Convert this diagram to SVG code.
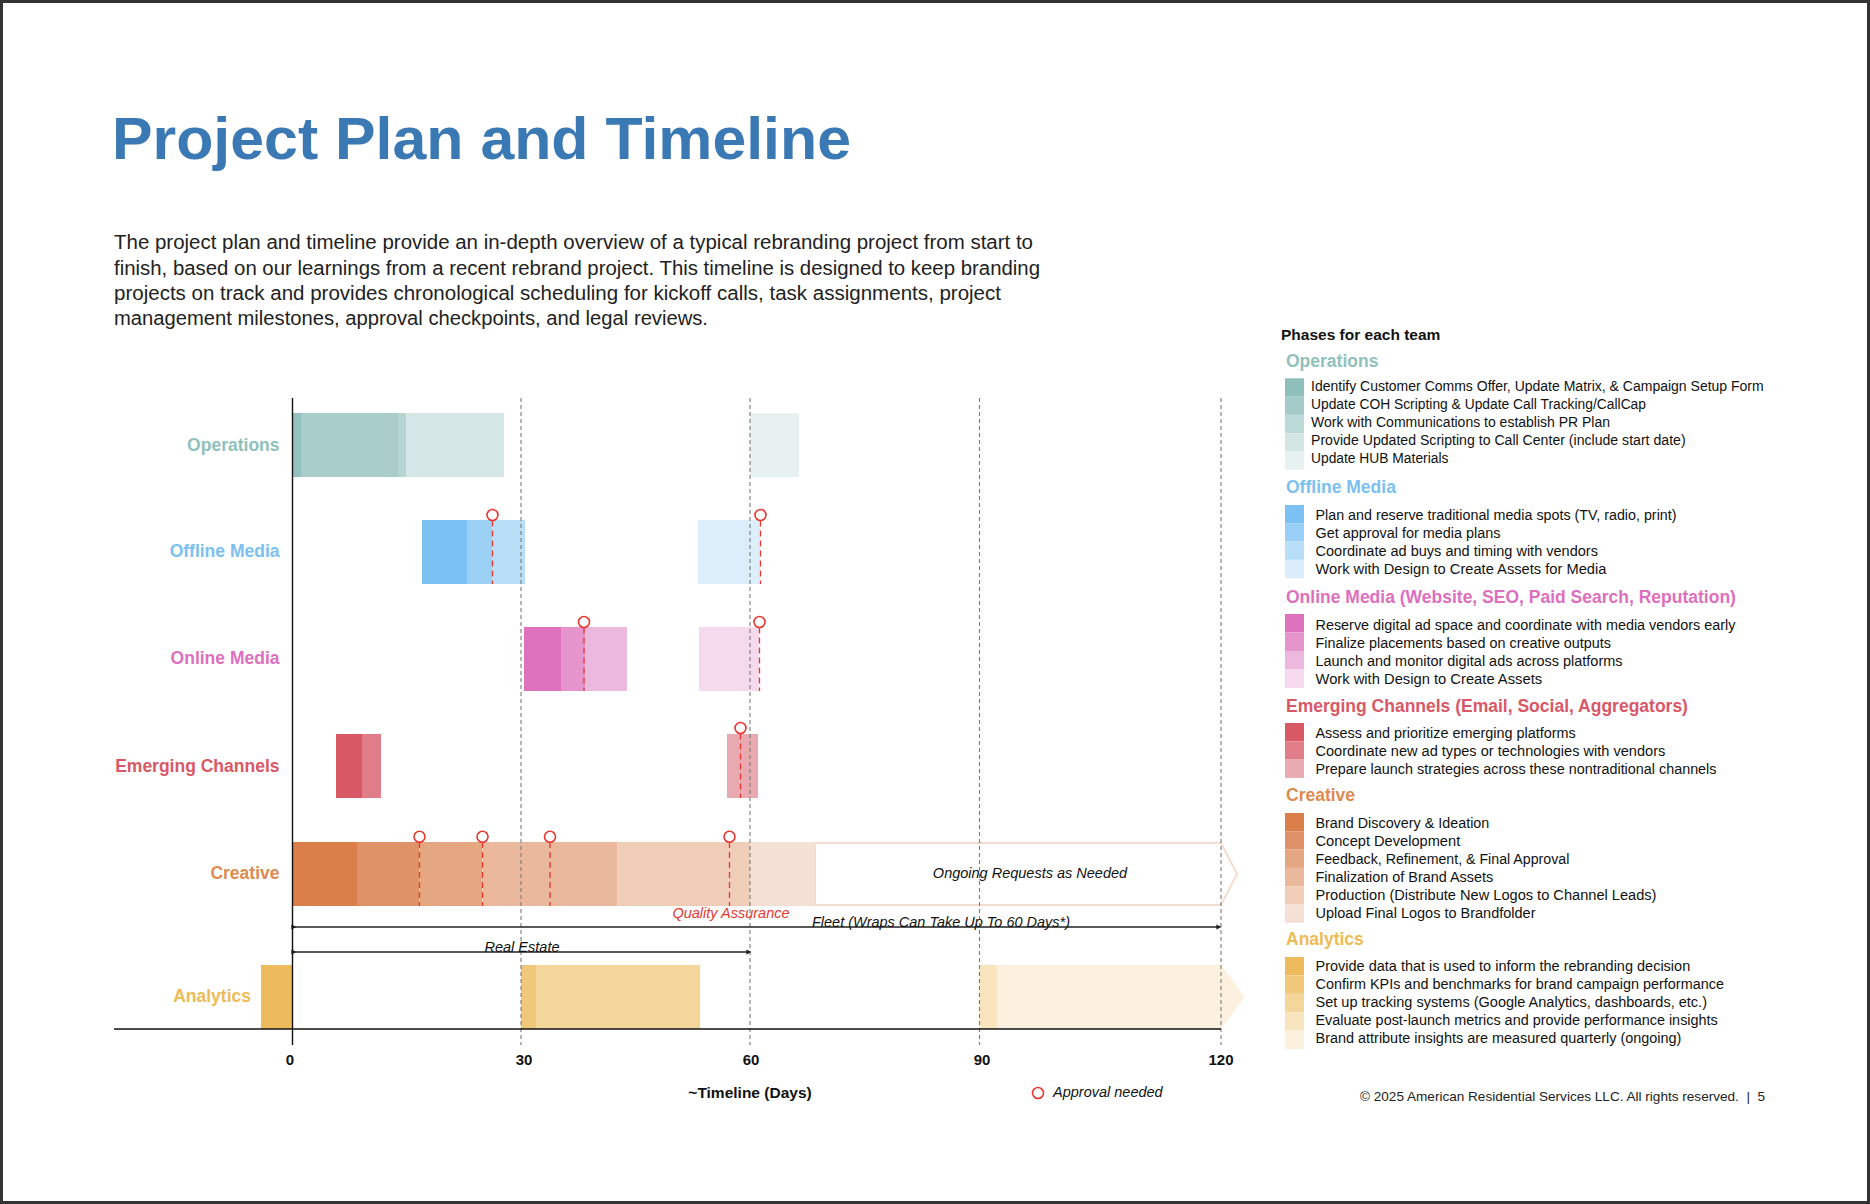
<svg xmlns="http://www.w3.org/2000/svg" width="1870" height="1204" viewBox="0 0 1870 1204">
<defs>
<style>
text{font-family:"Liberation Sans",Arial,sans-serif;}
.rowlab{font-size:17.5px;font-weight:bold;text-anchor:end;}
.grid{stroke:#7a7a7a;stroke-width:1.1;stroke-dasharray:4 3;fill:none;}
.appr{stroke:#E8372F;stroke-width:1.3;stroke-dasharray:6 4;fill:none;}
.circ{stroke:#E8372F;stroke-width:1.6;fill:#fff;}
.tick{font-size:15px;font-weight:bold;text-anchor:middle;fill:#111;}
.ital{font-style:italic;font-size:14.5px;fill:#111;}
.lh{font-size:17.5px;font-weight:bold;}
.li{font-size:14px;fill:#111;}
.para{font-size:19.5px;fill:#222;}
</style>
<marker id="dot" viewBox="0 0 6 6" refX="3" refY="3" markerWidth="4" markerHeight="4" orient="auto">
<path d="M0,0 L6,3 L0,6 z" fill="#222"/>
</marker>
</defs>
<rect x="0" y="0" width="1870" height="1204" fill="#fff"/>
<rect x="1.5" y="1.5" width="1867" height="1201" fill="none" stroke="#333" stroke-width="3"/>

<g id="title">
<text x="112" y="159" font-size="60" font-weight="bold" fill="#3A79B4" textLength="739" lengthAdjust="spacingAndGlyphs">Project Plan and Timeline</text>
</g>
<g id="intro">
<text class="para" x="114" y="249" textLength="919" lengthAdjust="spacingAndGlyphs">The project plan and timeline provide an in-depth overview of a typical rebranding project from start to</text>
<text class="para" x="114" y="275" textLength="926" lengthAdjust="spacingAndGlyphs">finish, based on our learnings from a recent rebrand project. This timeline is designed to keep branding</text>
<text class="para" x="114" y="300" textLength="887" lengthAdjust="spacingAndGlyphs">projects on track and provides chronological scheduling for kickoff calls, task assignments, project</text>
<text class="para" x="114" y="325" textLength="594" lengthAdjust="spacingAndGlyphs">management milestones, approval checkpoints, and legal reviews.</text>
</g>

<g id="row-operations">
<rect x="292" y="413" width="9" height="64" fill="#93C2BE"/>
<rect x="301" y="413" width="97" height="64" fill="#A8CDCB"/>
<rect x="398" y="413" width="8" height="64" fill="#B6D6D3"/>
<rect x="406" y="413" width="98" height="64" fill="#D4E6E5"/>
<rect x="750" y="413" width="49" height="64" fill="#E7F1F0"/>
<text class="rowlab" x="279.5" y="450.5" fill="#8FC1BC">Operations</text>
</g>

<g id="row-offline">
<rect x="422" y="520" width="45" height="64" fill="#7BC1F3"/>
<rect x="467" y="520" width="25.5" height="64" fill="#9DD0F5"/>
<rect x="492.5" y="520" width="32.5" height="64" fill="#B9DFF8"/>
<rect x="698" y="520" width="62" height="64" fill="#DCEEFA"/>
<text class="rowlab" x="279.5" y="557" fill="#7BC0F0">Offline Media</text>
</g>

<g id="row-online">
<rect x="524" y="627" width="37" height="64" fill="#DE72BF"/>
<rect x="561" y="627" width="24" height="64" fill="#E594CC"/>
<rect x="585" y="627" width="42" height="64" fill="#EDB8DE"/>
<rect x="699" y="627" width="60" height="64" fill="#F5DAEE"/>
<text class="rowlab" x="279.5" y="664" fill="#DD6FBE">Online Media</text>
</g>

<g id="row-emerging">
<rect x="336" y="734" width="26" height="64" fill="#D95866"/>
<rect x="362" y="734" width="19" height="64" fill="#E07D88"/>
<rect x="727" y="734" width="31" height="64" fill="#E9A9B1"/>
<text class="rowlab" x="279.5" y="772" fill="#D95866">Emerging Channels</text>
</g>

<g id="row-creative">
<polygon points="815,843 1221,843 1237,874 1221,905 815,905" fill="#fff" stroke="#F5DCD0" stroke-width="2"/>
<rect x="292" y="842" width="65" height="64" fill="#DA7F4A"/>
<rect x="357" y="842" width="62.5" height="64" fill="#DF9267"/>
<rect x="419.5" y="842" width="63" height="64" fill="#E5A682"/>
<rect x="482.5" y="842" width="135" height="64" fill="#EAB89C"/>
<rect x="617.5" y="842" width="132.5" height="64" fill="#F0CDB7"/>
<rect x="750" y="842" width="65" height="64" fill="#F5E0D6"/>
<text class="rowlab" x="279.5" y="878.5" fill="#DD8A50">Creative</text>
</g>

<g id="row-analytics">
<rect x="261" y="965" width="31.5" height="64" fill="#EDBB5B"/>
<rect x="521" y="965" width="15" height="64" fill="#F0C87A"/>
<rect x="536" y="965" width="164" height="64" fill="#F4D69B"/>
<rect x="979.5" y="965" width="17.5" height="64" fill="#F8E4BD"/>
<polygon points="997,965 1221,965 1245,997 1221,1029 997,1029" fill="#FCF1DF"/>
<text class="rowlab" x="251" y="1002" fill="#EEBB55">Analytics</text>
</g>

<g id="grid">
<line class="grid" x1="521" y1="398" x2="521" y2="1045"/>
<line class="grid" x1="750" y1="398" x2="750" y2="1045"/>
<line class="grid" x1="979.5" y1="398" x2="979.5" y2="1045"/>
<line class="grid" x1="1221" y1="398" x2="1221" y2="1045"/>
</g>

<g id="approvals">
<line class="appr" x1="492.5" y1="520.5" x2="492.5" y2="584"/>
<circle class="circ" cx="492.5" cy="515" r="5.5"/>
<line class="appr" x1="760.5" y1="520.5" x2="760.5" y2="584"/>
<circle class="circ" cx="760.5" cy="515" r="5.5"/>
<line class="appr" x1="584" y1="627.5" x2="584" y2="691"/>
<circle class="circ" cx="584" cy="622" r="5.5"/>
<line class="appr" x1="759.5" y1="627.5" x2="759.5" y2="691"/>
<circle class="circ" cx="759.5" cy="622" r="5.5"/>
<line class="appr" x1="740.5" y1="733.5" x2="740.5" y2="798"/>
<circle class="circ" cx="740.5" cy="728" r="5.5"/>
<line class="appr" x1="419.5" y1="842" x2="419.5" y2="906"/>
<circle class="circ" cx="419.5" cy="836.7" r="5.5"/>
<line class="appr" x1="482.5" y1="842" x2="482.5" y2="906"/>
<circle class="circ" cx="482.5" cy="836.7" r="5.5"/>
<line class="appr" x1="550" y1="842" x2="550" y2="906"/>
<circle class="circ" cx="550" cy="836.7" r="5.5"/>
<line class="appr" x1="729.5" y1="842" x2="729.5" y2="906"/>
<circle class="circ" cx="729.5" cy="836.7" r="5.5"/>
</g>

<g id="bar-labels">
<text class="ital" x="1030" y="878" text-anchor="middle">Ongoing Requests as Needed</text>
<text x="731" y="918" font-size="14.5" font-style="italic" fill="#E8372F" text-anchor="middle">Quality Assurance</text>
</g>

<g id="connectors">
<line x1="294" y1="927" x2="1219" y2="927" stroke="#222" stroke-width="1.3" marker-start="url(#dot)" marker-end="url(#dot)"/>
<line x1="294" y1="952" x2="749" y2="952" stroke="#222" stroke-width="1.3" marker-start="url(#dot)" marker-end="url(#dot)"/>
</g>
<g id="span-labels">
<text class="ital" x="941" y="927" text-anchor="middle" textLength="258" lengthAdjust="spacingAndGlyphs">Fleet (Wraps Can Take Up To 60 Days*)</text>
<text class="ital" x="522" y="952" text-anchor="middle" font-size="14">Real Estate</text>
</g>

<g id="axes">
<line x1="292.5" y1="398" x2="292.5" y2="1045" stroke="#111" stroke-width="1.4"/>
<line x1="114" y1="1029" x2="1221" y2="1029" stroke="#111" stroke-width="1.6"/>
<text class="tick" x="290" y="1065">0</text>
<text class="tick" x="524" y="1065">30</text>
<text class="tick" x="751" y="1065">60</text>
<text class="tick" x="982" y="1065">90</text>
<text class="tick" x="1221" y="1065">120</text>
<text x="750" y="1098" font-size="15.5" font-weight="bold" text-anchor="middle" fill="#111">~Timeline (Days)</text>
</g>

<g id="approval-key">
<circle class="circ" cx="1038" cy="1093" r="5.5"/>
<text class="ital" x="1053" y="1097">Approval needed</text>
</g>

<g id="legend">
<text x="1281" y="340" font-size="15.5" font-weight="bold" fill="#111">Phases for each team</text>

<g id="legend-operations">
<text class="lh" x="1286" y="367" fill="#8FC1BC">Operations</text>
<rect x="1285" y="378.3" width="19" height="18.3" fill="#8FBFBB"/>
<rect x="1285" y="396.6" width="19" height="18.3" fill="#A5CBC8"/>
<rect x="1285" y="414.9" width="19" height="18.3" fill="#BCDAD7"/>
<rect x="1285" y="433.2" width="19" height="18.3" fill="#D3E6E4"/>
<rect x="1285" y="451.5" width="19" height="18.3" fill="#E7F1F0"/>
<text class="li" x="1311" y="391" textLength="452.7" lengthAdjust="spacingAndGlyphs">Identify Customer Comms Offer, Update Matrix, &amp; Campaign Setup Form</text>
<text class="li" x="1311" y="409" textLength="335" lengthAdjust="spacingAndGlyphs">Update COH Scripting &amp; Update Call Tracking/CallCap</text>
<text class="li" x="1311" y="427" textLength="299" lengthAdjust="spacingAndGlyphs">Work with Communications to establish PR Plan</text>
<text class="li" x="1311" y="445" textLength="374.6" lengthAdjust="spacingAndGlyphs">Provide Updated Scripting to Call Center (include start date)</text>
<text class="li" x="1311" y="463" textLength="137.4" lengthAdjust="spacingAndGlyphs">Update HUB Materials</text>
</g>

<g id="legend-offline">
<text class="lh" x="1286" y="493" fill="#7BC0F0">Offline Media</text>
<rect x="1285" y="505" width="19" height="18.3" fill="#7BC1F3"/>
<rect x="1285" y="523.3" width="19" height="18.3" fill="#99CFF6"/>
<rect x="1285" y="541.6" width="19" height="18.3" fill="#B9DFF8"/>
<rect x="1285" y="559.9" width="19" height="18.3" fill="#DBEDFA"/>
<text class="li" x="1315.5" y="520" textLength="361" lengthAdjust="spacingAndGlyphs">Plan and reserve traditional media spots (TV, radio, print)</text>
<text class="li" x="1315.5" y="538" textLength="185" lengthAdjust="spacingAndGlyphs">Get approval for media plans</text>
<text class="li" x="1315.5" y="556" textLength="282.4" lengthAdjust="spacingAndGlyphs">Coordinate ad buys and timing with vendors</text>
<text class="li" x="1315.5" y="574" textLength="290.9" lengthAdjust="spacingAndGlyphs">Work with Design to Create Assets for Media</text>
</g>

<g id="legend-online">
<text class="lh" x="1286" y="603" fill="#DD6FBE">Online Media (Website, SEO, Paid Search, Reputation)</text>
<rect x="1285" y="614" width="19" height="18.5" fill="#DE72BF"/>
<rect x="1285" y="632.5" width="19" height="18.5" fill="#E594CC"/>
<rect x="1285" y="651" width="19" height="18.5" fill="#EDB8DE"/>
<rect x="1285" y="669.5" width="19" height="18.5" fill="#F5DAEE"/>
<text class="li" x="1315.5" y="629.5" textLength="420" lengthAdjust="spacingAndGlyphs">Reserve digital ad space and coordinate with media vendors early</text>
<text class="li" x="1315.5" y="647.5" textLength="295.5" lengthAdjust="spacingAndGlyphs">Finalize placements based on creative outputs</text>
<text class="li" x="1315.5" y="665.5" textLength="307" lengthAdjust="spacingAndGlyphs">Launch and monitor digital ads across platforms</text>
<text class="li" x="1315.5" y="683.5" textLength="226.6" lengthAdjust="spacingAndGlyphs">Work with Design to Create Assets</text>
</g>

<g id="legend-emerging">
<text class="lh" x="1286" y="712" fill="#D95866">Emerging Channels (Email, Social, Aggregators)</text>
<rect x="1285" y="723" width="19" height="18.3" fill="#D95866"/>
<rect x="1285" y="741.3" width="19" height="18.3" fill="#E07D88"/>
<rect x="1285" y="759.6" width="19" height="18.3" fill="#E9A9B1"/>
<text class="li" x="1315.5" y="737.5" textLength="260.3" lengthAdjust="spacingAndGlyphs">Assess and prioritize emerging platforms</text>
<text class="li" x="1315.5" y="755.5" textLength="349.8" lengthAdjust="spacingAndGlyphs">Coordinate new ad types or technologies with vendors</text>
<text class="li" x="1315.5" y="773.5" textLength="401" lengthAdjust="spacingAndGlyphs">Prepare launch strategies across these nontraditional channels</text>
</g>

<g id="legend-creative">
<text class="lh" x="1286" y="801" fill="#DD8A50">Creative</text>
<rect x="1285" y="813" width="19" height="18.3" fill="#DA7F4A"/>
<rect x="1285" y="831.3" width="19" height="18.3" fill="#DF9267"/>
<rect x="1285" y="849.6" width="19" height="18.3" fill="#E5A682"/>
<rect x="1285" y="867.9" width="19" height="18.3" fill="#EAB89C"/>
<rect x="1285" y="886.2" width="19" height="18.3" fill="#F0CDB7"/>
<rect x="1285" y="904.5" width="19" height="18.3" fill="#F5E0D6"/>
<text class="li" x="1315.5" y="827.5" textLength="173.8" lengthAdjust="spacingAndGlyphs">Brand Discovery &amp; Ideation</text>
<text class="li" x="1315.5" y="845.5" textLength="144.7" lengthAdjust="spacingAndGlyphs">Concept Development</text>
<text class="li" x="1315.5" y="863.5" textLength="253.8" lengthAdjust="spacingAndGlyphs">Feedback, Refinement, &amp; Final Approval</text>
<text class="li" x="1315.5" y="881.5" textLength="177.6" lengthAdjust="spacingAndGlyphs">Finalization of Brand Assets</text>
<text class="li" x="1315.5" y="899.5" textLength="341" lengthAdjust="spacingAndGlyphs">Production (Distribute New Logos to Channel Leads)</text>
<text class="li" x="1315.5" y="917.5" textLength="220" lengthAdjust="spacingAndGlyphs">Upload Final Logos to Brandfolder</text>
</g>

<g id="legend-analytics">
<text class="lh" x="1286" y="945" fill="#EEBB55">Analytics</text>
<rect x="1285" y="957" width="19" height="18.4" fill="#EDBB5B"/>
<rect x="1285" y="975.4" width="19" height="18.4" fill="#F0C87A"/>
<rect x="1285" y="993.8" width="19" height="18.4" fill="#F4D69B"/>
<rect x="1285" y="1012.2" width="19" height="18.4" fill="#F8E4BD"/>
<rect x="1285" y="1030.6" width="19" height="18.4" fill="#FCF1DF"/>
<text class="li" x="1315.5" y="970.5" textLength="374.7" lengthAdjust="spacingAndGlyphs">Provide data that is used to inform the rebranding decision</text>
<text class="li" x="1315.5" y="988.5" textLength="408.4" lengthAdjust="spacingAndGlyphs">Confirm KPIs and benchmarks for brand campaign performance</text>
<text class="li" x="1315.5" y="1006.5" textLength="391.5" lengthAdjust="spacingAndGlyphs">Set up tracking systems (Google Analytics, dashboards, etc.)</text>
<text class="li" x="1315.5" y="1024.5" textLength="402.3" lengthAdjust="spacingAndGlyphs">Evaluate post-launch metrics and provide performance insights</text>
<text class="li" x="1315.5" y="1042.5" textLength="365.9" lengthAdjust="spacingAndGlyphs">Brand attribute insights are measured quarterly (ongoing)</text>
</g>
</g>

<g id="footer">
<text x="1360" y="1100.5" font-size="13.5" fill="#222" textLength="405" lengthAdjust="spacingAndGlyphs" xml:space="preserve">© 2025 American Residential Services LLC. All rights reserved.  |  5</text>
</g>
</svg>
